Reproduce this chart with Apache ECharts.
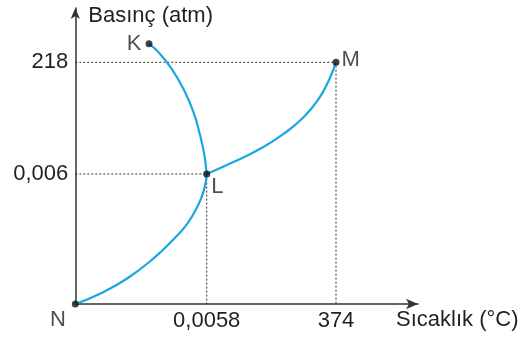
<!DOCTYPE html>
<html>
<head>
<meta charset="utf-8">
<script src="https://cdn.jsdelivr.net/npm/echarts@6/dist/echarts.min.js"></script>
<style>html,body{margin:0;padding:0;background:#fff}#c{width:529px;height:346px}</style>
</head>
<body>
<div id="c"></div>
<script>
// Relative units: triple point L = (1, 1)
const pointNames = ['N', 'L', 'K', 'M'];
const pointX = [0, 1, 0.561, 1.984];
const pointY = [0, 1, 2.002, 1.859];

// N -> L (sublimation curve)
const curveNLx = [0, 0.2, 0.4, 0.6, 0.75, 0.85, 0.93, 0.98, 1];
const curveNLy = [0, 0.085, 0.2, 0.355, 0.5, 0.615, 0.75, 0.88, 1];
// L -> M (vaporization curve)
const curveLMx = [1, 1.203, 1.407, 1.585, 1.737, 1.852, 1.928, 1.984];
const curveLMy = [1, 1.092, 1.194, 1.309, 1.437, 1.578, 1.718, 1.859];
// L -> K (fusion curve)
const curveLKx = [1, 0.982, 0.949, 0.898, 0.821, 0.732, 0.643, 0.561];
const curveLKy = [1, 1.147, 1.301, 1.479, 1.658, 1.811, 1.926, 2.002];

const xTickValues = [1, 1.984];
const xTickLabels = ['0,0058', '374'];
const yTickValues = [1, 1.859];
const yTickLabels = ['0,006', '218'];

const xName = 'Sıcaklık (°C)';
const yName = 'Basınç (atm)';

const zip = (a, b) => a.map((v, i) => [v, b[i]]);
const blue = '#1aa7e0';
const ink = '#231f20';
const font = "'Liberation Sans', Arial, sans-serif";
const fs = 22;

const iL = pointNames.indexOf('L'), iM = pointNames.indexOf('M');
const guideM = [[0, pointY[iM]], [pointX[iM], pointY[iM]], [pointX[iM], 0]];
const guideL = [[0, pointY[iL]], [pointX[iL], pointY[iL]], [pointX[iL], 0]];

const labelPos = {
  N: {position: 'left', offset: [-1, 16]},
  L: {position: 'right', offset: [-4, 13]},
  K: {position: 'left', offset: [1, 0]},
  M: {position: 'right', offset: [-3, -2]}
};

const chart = echarts.init(document.getElementById('c'), null, {renderer: 'canvas'});
const guideStyle = {color: '#333', width: 1, type: [2, 2]};
const curveStyle = {color: blue, width: 2.2};
chart.setOption({
  animation: false,
  grid: {left: 75.3, right: 111, top: 8, bottom: 42, containLabel: false},
  graphic: [
    {type: 'text', left: 396, top: 309, style: {text: xName, fill: ink, font: fs + 'px ' + font}}
  ],
  xAxis: {
    type: 'value', min: 0, max: 2.608,
    axisLine: {show: true, lineStyle: {color: '#333', width: 1.5}, symbol: ['none', 'arrow'], symbolSize: [8, 12]},
    axisTick: {show: false},
    splitLine: {show: false},
    axisLabel: {
      customValues: xTickValues, margin: 6,
      color: ink, fontSize: fs, fontFamily: font,
      formatter: v => { const i = xTickValues.indexOf(v); return i >= 0 ? xTickLabels[i] : ''; }
    }
  },
  yAxis: {
    type: 'value', min: 0, max: 2.277,
    name: yName, nameLocation: 'end', nameGap: -8,
    nameTextStyle: {color: ink, fontSize: fs, fontFamily: font, align: 'left', verticalAlign: 'middle', padding: [0, 0, 0, 13]},
    axisLine: {show: true, lineStyle: {color: '#333', width: 1.5}, symbol: ['none', 'arrow'], symbolSize: [7, 11]},
    axisTick: {show: false},
    splitLine: {show: false},
    axisLabel: {
      customValues: yTickValues, margin: 7,
      color: ink, fontSize: fs, fontFamily: font,
      formatter: v => { const i = yTickValues.indexOf(v); return i >= 0 ? yTickLabels[i] : ''; }
    }
  },
  series: [
    {type: 'line', data: guideM, symbol: 'none', lineStyle: guideStyle, z: 1},
    {type: 'line', data: guideL, symbol: 'none', lineStyle: guideStyle, z: 1},
    {type: 'line', data: zip(curveNLx, curveNLy), smooth: 0.5, symbol: 'none', lineStyle: curveStyle, z: 2},
    {type: 'line', data: zip(curveLMx, curveLMy), smooth: 0.5, symbol: 'none', lineStyle: curveStyle, z: 2},
    {type: 'line', data: zip(curveLKx, curveLKy), smooth: 0.5, symbol: 'none', lineStyle: curveStyle, z: 2},
    {
      type: 'scatter', symbol: 'circle', symbolSize: 7, z: 5,
      itemStyle: {color: '#111'},
      data: pointNames.map((n, i) => ({
        value: [pointX[i], pointY[i]], name: n,
        label: Object.assign({show: true, formatter: n, color: ink, fontSize: fs, fontFamily: font}, labelPos[n])
      }))
    }
  ]
});
</script>
</body>
</html>
